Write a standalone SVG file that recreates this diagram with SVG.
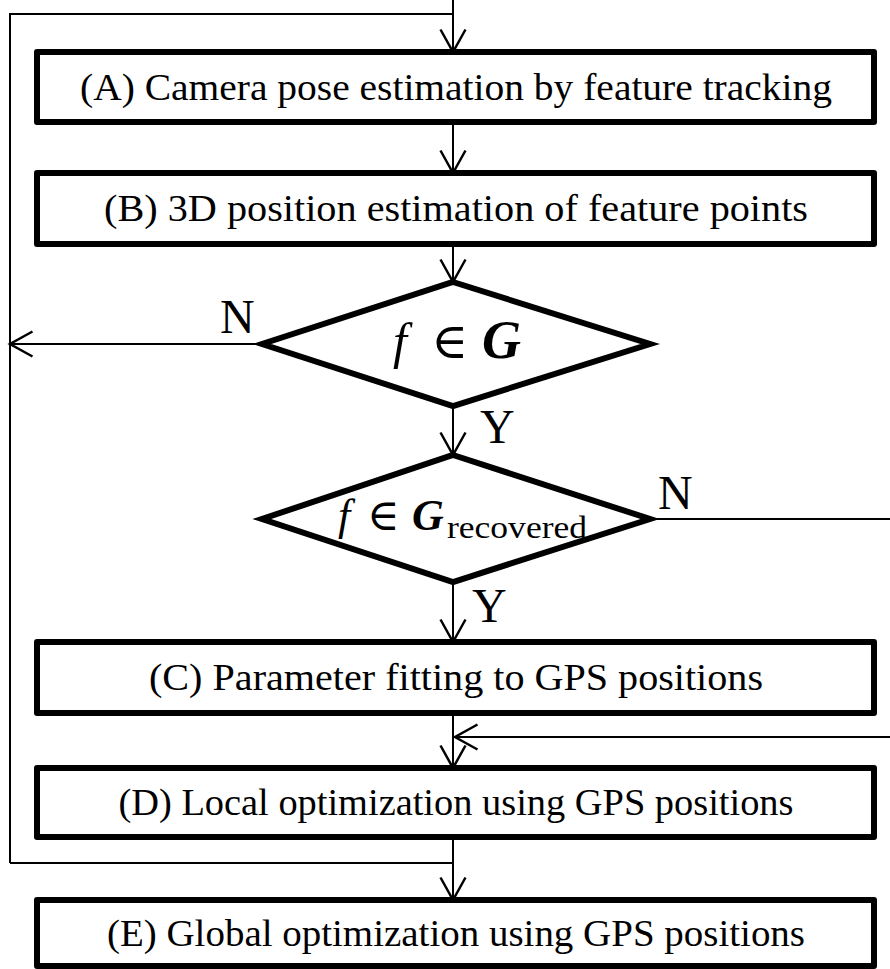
<svg xmlns="http://www.w3.org/2000/svg" width="890" height="969" viewBox="0 0 890 969">
<style>
.box{fill:#fff;stroke:#000;stroke-width:6;stroke-linejoin:round}
.dia{fill:#fff;stroke:#000;stroke-width:6;stroke-linejoin:miter}
.ln{fill:none;stroke:#000;stroke-width:2}
.t{font-family:"Liberation Serif","DejaVu Serif",serif;font-size:38px;fill:#000}
.lbl{font-family:"Liberation Serif","DejaVu Serif",serif;font-size:48px;fill:#000}
.m{font-family:"Liberation Serif","DejaVu Serif",serif;fill:#000}
</style>
<defs>
<marker id="ah" markerUnits="userSpaceOnUse" markerWidth="30" markerHeight="30" viewBox="-20 -12 24 24" refX="0" refY="0" orient="auto">
<path d="M-18,-10 L0,0 L-18,10" fill="none" stroke="#000" stroke-width="2"/>
</marker>
</defs>
<g id="connectors">
<path class="ln" d="M453,0 L453,52" marker-end="url(#ah)"/>
<path class="ln" d="M10,863 L10,14 L453,14"/>
<path class="ln" d="M453,122 L453,173" marker-end="url(#ah)"/>
<path class="ln" d="M453,244 L453,282" marker-end="url(#ah)"/>
<path class="ln" d="M262,344 L10,344" marker-end="url(#ah)"/>
<path class="ln" d="M453,406 L453,455" marker-end="url(#ah)"/>
<path class="ln" d="M650,519 L890,519"/>
<path class="ln" d="M453,582 L453,642" marker-end="url(#ah)"/>
<path class="ln" d="M890,737 L455,737" marker-end="url(#ah)"/>
<path class="ln" d="M453,713 L453,768" marker-end="url(#ah)"/>
<path class="ln" d="M453,837 L453,900" marker-end="url(#ah)"/>
<path class="ln" d="M10,863 L453,863"/>
</g>
<g id="nodeA">
<rect class="box" x="37" y="52" width="837" height="70"/>
<text class="t" x="456" y="100" text-anchor="middle" textLength="752" lengthAdjust="spacingAndGlyphs">(A) Camera pose estimation by feature tracking</text>
</g>
<g id="nodeB">
<rect class="box" x="37" y="173" width="837" height="71"/>
<text class="t" x="456" y="221" text-anchor="middle" textLength="704" lengthAdjust="spacingAndGlyphs">(B) 3D position estimation of feature points</text>
</g>
<g id="decision1">
<polygon class="dia" points="453,282 650,344 453,406 262,344"/>
<text class="m" y="358" font-size="50"><tspan x="393" font-style="italic">f</tspan><tspan x="431">∈</tspan><tspan x="482" font-style="italic" font-weight="bold" font-size="54">G</tspan></text>
<text class="lbl" x="220" y="333">N</text>
<text class="lbl" x="480" y="443">Y</text>
</g>
<g id="decision2">
<polygon class="dia" points="453,455 650,519 453,582 262,519"/>
<text class="m" y="530" font-size="44"><tspan x="338" font-style="italic">f</tspan><tspan x="367">∈</tspan><tspan x="412" font-style="italic" font-weight="bold">G</tspan><tspan x="447" y="538" font-size="32" textLength="140" lengthAdjust="spacingAndGlyphs">recovered</tspan></text>
<text class="lbl" x="658" y="509">N</text>
<text class="lbl" x="472" y="622">Y</text>
</g>
<g id="nodeC">
<rect class="box" x="37" y="642" width="837" height="71"/>
<text class="t" x="456" y="690" text-anchor="middle" textLength="614" lengthAdjust="spacingAndGlyphs">(C) Parameter fitting to GPS positions</text>
</g>
<g id="nodeD">
<rect class="box" x="37" y="768" width="837" height="69"/>
<text class="t" x="456" y="815" text-anchor="middle" textLength="675" lengthAdjust="spacingAndGlyphs">(D) Local optimization using GPS positions</text>
</g>
<g id="nodeE">
<rect class="box" x="37" y="900" width="837" height="66"/>
<text class="t" x="456" y="946" text-anchor="middle" textLength="698" lengthAdjust="spacingAndGlyphs">(E) Global optimization using GPS positions</text>
</g>
</svg>
